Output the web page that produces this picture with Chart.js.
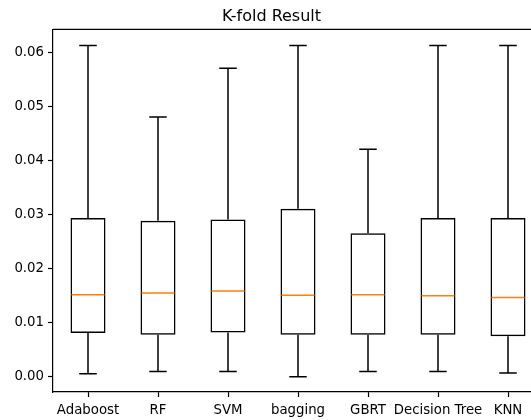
<!DOCTYPE html>
<html>
<head>
<meta charset="utf-8">
<script src="https://cdn.jsdelivr.net/npm/chart.js@4/dist/chart.umd.min.js"></script>
<style>
  html, body { margin: 0; padding: 0; overflow: hidden; background: #fff; }
  #wrap { width: 560px; height: 420px; }
</style>
</head>
<body>
<div id="wrap"><canvas id="c" width="560" height="420"></canvas></div>
<script>
const categories = ['Adaboost', 'RF', 'SVM', 'bagging', 'GBRT', 'Decision Tree', 'KNN'];
const whiskerLow  = [0.0006, 0.0010, 0.0010, 0.0000, 0.0010, 0.0010, 0.0007];
const q1          = [0.0081, 0.0078, 0.0082, 0.0078, 0.0078, 0.0078, 0.0075];
const median      = [0.0152, 0.0155, 0.0159, 0.0151, 0.0152, 0.0150, 0.0147];
const q3          = [0.0294, 0.0289, 0.0291, 0.0311, 0.0266, 0.0294, 0.0294];
const whiskerHigh = [0.0613, 0.0481, 0.0571, 0.0613, 0.0421, 0.0613, 0.0613];
const yTicks = [0.00, 0.01, 0.02, 0.03, 0.04, 0.05, 0.06];
const titleText = 'K-fold Result';

const FONT = 'DejaVu Sans';
const LW = 1.5;

const boxPlugin = {
  id: 'boxParts',
  afterDatasetsDraw(chart) {
    const ctx = chart.ctx;
    const xs = chart.scales.x, ys = chart.scales.y;
    const slot = xs.getPixelForValue(1) - xs.getPixelForValue(0);
    const halfBox = slot * 0.25;
    const halfCap = slot * 0.125;
    ctx.save();
    ctx.lineWidth = LW;
    ctx.strokeStyle = '#000';
    ctx.beginPath();
    for (let i = 0; i < categories.length; i++) {
      const x = xs.getPixelForValue(i);
      const yLo = ys.getPixelForValue(whiskerLow[i]);
      const yQ1 = ys.getPixelForValue(q1[i]);
      const yQ3 = ys.getPixelForValue(q3[i]);
      const yHi = ys.getPixelForValue(whiskerHigh[i]);
      ctx.moveTo(x, yQ1); ctx.lineTo(x, yLo);
      ctx.moveTo(x, yQ3); ctx.lineTo(x, yHi);
      ctx.moveTo(x - halfCap, yLo); ctx.lineTo(x + halfCap, yLo);
      ctx.moveTo(x - halfCap, yHi); ctx.lineTo(x + halfCap, yHi);
    }
    ctx.stroke();
    ctx.strokeStyle = '#ff7f0e';
    ctx.beginPath();
    for (let i = 0; i < categories.length; i++) {
      const x = xs.getPixelForValue(i);
      const yM = ys.getPixelForValue(median[i]);
      ctx.moveTo(x - halfBox + 1, yM); ctx.lineTo(x + halfBox - 1, yM);
    }
    ctx.stroke();
    // top spine
    ctx.strokeStyle = '#000';
    ctx.lineWidth = 1.2;
    ctx.beginPath();
    const a = chart.chartArea;
    ctx.moveTo(a.left, a.top);
    ctx.lineTo(a.right, a.top);
    ctx.stroke();
    ctx.restore();
  }
};

new Chart(document.getElementById('c'), {
  type: 'bar',
  data: {
    labels: categories,
    datasets: [{
      data: categories.map((_, i) => [q1[i], q3[i]]),
      backgroundColor: 'rgba(255,255,255,0)',
      borderColor: '#000',
      borderWidth: LW,
      borderSkipped: false,
      barPercentage: 0.5,
      categoryPercentage: 1.0
    }]
  },
  options: {
    responsive: false,
    animation: false,
    devicePixelRatio: 1,
    layout: { padding: { left: 0, right: 17, top: 0, bottom: 0 } },
    plugins: {
      legend: { display: false },
      tooltip: { enabled: false },
      title: {
        display: true,
        text: titleText,
        color: '#000',
        font: { family: FONT, size: 16, weight: 'normal' },
        padding: { top: 7, bottom: 3.2 }
      }
    },
    scales: {
      x: {
        offset: true,
        grid: { display: true, offset: false, drawOnChartArea: false, drawTicks: true, tickLength: 5, color: '#000', tickWidth: 1.2 },
        border: { display: true, color: '#000', width: 1.2 },
        ticks: { color: '#000', font: { family: FONT, size: 13.3 }, padding: 6, maxRotation: 0, autoSkip: false },
        afterFit(scale) { scale.height = 28; }
      },
      y: {
        min: -0.0028,
        max: 0.0643,
        afterBuildTicks(scale) { scale.ticks = yTicks.map(v => ({ value: v })); },
        grid: { display: true, drawOnChartArea: false, drawTicks: true, tickLength: 5, color: '#000', tickWidth: 1.2 },
        border: { display: true, color: '#000', width: 1.2 },
        ticks: { color: '#000', font: { family: FONT, size: 13.3 }, padding: 4, callback: v => v.toFixed(2) },
        afterFit(scale) { scale.width = 53; }
      }
    }
  },
  plugins: [boxPlugin]
});
</script>
</body>
</html>
